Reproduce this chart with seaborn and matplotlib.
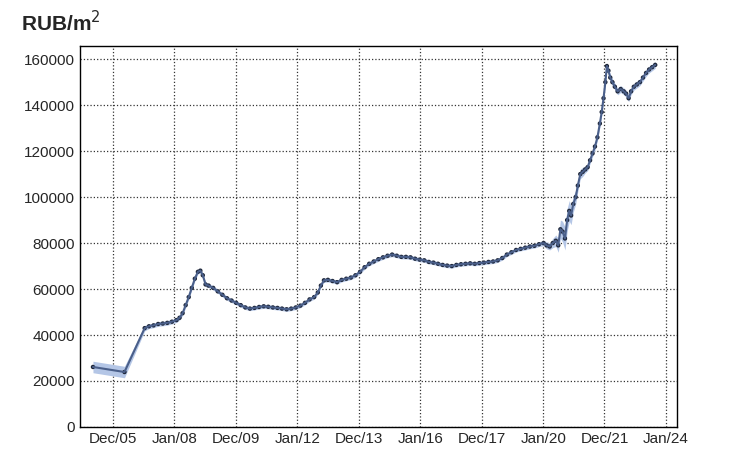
import matplotlib
matplotlib.use("Agg")
import matplotlib.pyplot as plt
import seaborn as sns
import pandas as pd
from matplotlib.ticker import MultipleLocator

sns.set_style("white")
plt.rcParams['font.family'] = ['Liberation Sans', 'DejaVu Sans']

# decimal year, price RUB/m2, band half-width
years = [2005.27, 2006.30, 2006.96, 2007.10, 2007.25, 2007.40, 2007.55, 2007.70, 2007.85, 2008.00,
         2008.10, 2008.20, 2008.30, 2008.40, 2008.50, 2008.60, 2008.70, 2008.78, 2008.86, 2008.95,
         2009.05, 2009.20, 2009.35, 2009.50, 2009.65, 2009.80, 2009.95, 2010.10, 2010.25, 2010.40,
         2010.55, 2010.70, 2010.85, 2011.00, 2011.15, 2011.30, 2011.45, 2011.60, 2011.75, 2011.90,
         2012.05, 2012.20, 2012.35, 2012.50, 2012.62, 2012.72, 2012.82, 2012.95, 2013.10, 2013.25,
         2013.40, 2013.55, 2013.70, 2013.85, 2014.00, 2014.15, 2014.30, 2014.45, 2014.60, 2014.75,
         2014.90, 2015.05, 2015.20, 2015.35, 2015.50, 2015.65, 2015.80, 2015.95, 2016.10, 2016.25,
         2016.40, 2016.55, 2016.70, 2016.85, 2017.00, 2017.15, 2017.30, 2017.45, 2017.60, 2017.75,
         2017.90, 2018.05, 2018.20, 2018.35, 2018.50, 2018.65, 2018.80, 2018.95, 2019.10, 2019.25,
         2019.40, 2019.55, 2019.70, 2019.85, 2020.00, 2020.10, 2020.20, 2020.30, 2020.40, 2020.48,
         2020.55, 2020.62, 2020.70, 2020.77, 2020.84, 2020.90, 2020.97, 2021.05, 2021.12, 2021.20,
         2021.28, 2021.36, 2021.44, 2021.52, 2021.60, 2021.68, 2021.76, 2021.84, 2021.90, 2021.96,
         2022.02, 2022.07, 2022.12, 2022.18, 2022.25, 2022.33, 2022.42, 2022.52, 2022.62, 2022.70,
         2022.78, 2022.86, 2022.95, 2023.05, 2023.15, 2023.25, 2023.35, 2023.45, 2023.55, 2023.65]
prices = [26100, 23900, 43000, 43800, 44200, 44800, 45000, 45300, 45800, 46500,
          47500, 49500, 53000, 56500, 60500, 64500, 67500, 68000, 66000, 62000,
          61500, 60500, 59000, 57500, 56000, 55000, 54000, 53000, 52000, 51500,
          51800, 52200, 52500, 52300, 52000, 51800, 51500, 51200, 51500, 52000,
          52800, 54000, 55500, 56500, 58500, 61500, 63800, 64000, 63500, 63000,
          64000, 64500, 65000, 66000, 67500, 69500, 71000, 72000, 73000, 73800,
          74500, 75000, 74500, 74000, 74000, 73800, 73200, 72800, 72500, 71800,
          71500, 71000, 70500, 70200, 70000, 70500, 70800, 71000, 71200, 71000,
          71300, 71500, 71800, 72000, 72500, 73500, 75000, 76000, 77000, 77500,
          78000, 78500, 78800, 79500, 80000, 79000, 78500, 80000, 81000, 79000,
          86000, 85000, 82000, 90000, 94000, 92000, 97000, 100000, 105000, 110000,
          111000, 112000, 113000, 116000, 119000, 122000, 126000, 132000, 137000, 143000,
          150000, 157000, 155000, 152000, 150000, 148000, 146000, 147000, 146000, 145000,
          143000, 146000, 148000, 149000, 150000, 152000, 154000, 155500, 156500, 157500]
band = [2500, 2500, 1200, 1000, 1000, 1000, 1000, 1000, 1000, 1000,
        1000, 1000, 1000, 1000, 1000, 1000, 1000, 1000, 1000, 1000,
        900, 900, 900, 900, 900, 900, 900, 900, 900, 900,
        900, 900, 900, 900, 900, 900, 900, 900, 900, 900,
        900, 900, 900, 900, 900, 900, 900, 900, 900, 900,
        900, 900, 900, 900, 900, 900, 900, 900, 900, 900,
        900, 900, 900, 900, 900, 900, 900, 900, 900, 900,
        900, 900, 900, 900, 900, 900, 900, 900, 900, 900,
        900, 900, 900, 900, 900, 900, 900, 900, 900, 900,
        1000, 1000, 1000, 1000, 1200, 1500, 1500, 2000, 2500, 3000,
        4000, 4500, 5000, 5000, 4500, 4000, 3500, 3000, 2500, 2000,
        2000, 1500, 1500, 1500, 1500, 1500, 1500, 1500, 1500, 1500,
        1500, 1500, 1500, 1500, 1500, 1500, 1500, 1500, 1500, 1500,
        1500, 1500, 1500, 1500, 1500, 1500, 1500, 1500, 1500, 1500]

tick_pos = [2005.92, 2007.93, 2009.94, 2011.95, 2013.96, 2015.97, 2017.98, 2019.99, 2021.99, 2024.0]
tick_labels = ['Dec/05', 'Jan/08', 'Dec/09', 'Jan/12', 'Dec/13', 'Jan/16', 'Dec/17', 'Jan/20', 'Dec/21', 'Jan/24']

df = pd.DataFrame({'year': years, 'price': prices, 'band': band})
df['lo'] = df.price - df.band
df['hi'] = df.price + df.band

fig = plt.figure(figsize=(7.53, 4.76), dpi=100)
ax = fig.add_axes([0.106, 0.103, 0.793, 0.800])

ax.fill_between(df.year, df.lo, df.hi, color='#b4c6e6', lw=0)
sns.lineplot(x=df.year, y=df.price, ax=ax, color='#4a5f8a', lw=1.5)
sns.scatterplot(x=df.year, y=df.price, ax=ax, color='#1e2638', s=10, edgecolor='none')

ax.set_xlim(2004.84, 2024.36)
ax.set_ylim(0, 165650)
ax.set_xticks(tick_pos)
ax.set_xticklabels(tick_labels)
ax.xaxis.set_minor_locator(MultipleLocator(2.01 / 4))
ax.yaxis.set_major_locator(MultipleLocator(20000))
ax.yaxis.set_minor_locator(MultipleLocator(5000))
ax.tick_params(which='major', direction='in', length=8, width=1, labelsize=11, top=False, right=False)
ax.tick_params(which='minor', direction='in', length=4, width=1)
ax.grid(True, which='major', ls=':', color='#333333', lw=0.9)
ax.set_xlabel('')
ax.set_ylabel('')
for s in ax.spines.values():
    s.set_color('black')
    s.set_linewidth(1)

fig.text(0.028, 0.935, 'RUB/m$^2$', fontsize=15, fontweight='bold')

fig.savefig('out.png', dpi=100)
